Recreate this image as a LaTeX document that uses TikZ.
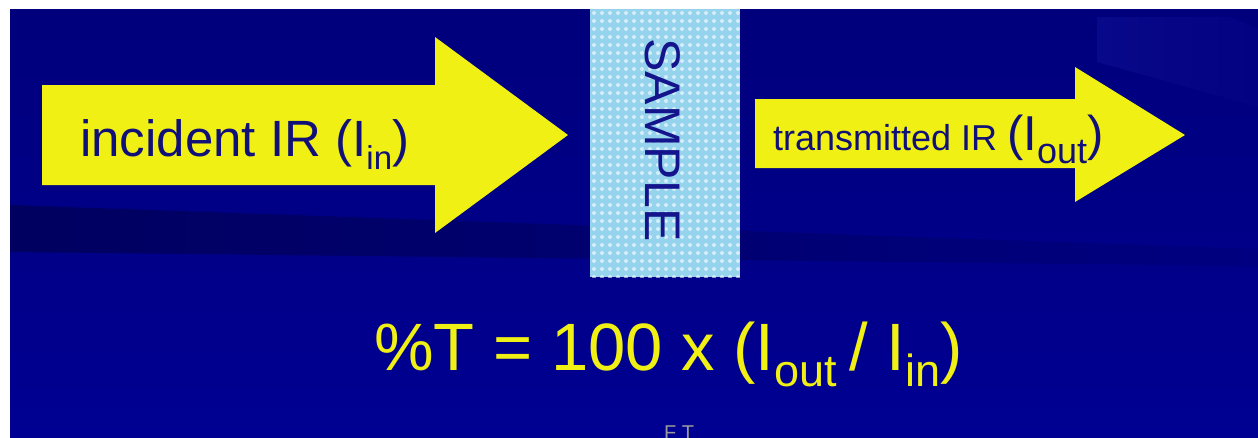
\documentclass[tikz,border=0pt]{standalone}
\usepackage{fontspec}
\setmainfont{Liberation Sans}
\newcommand{\mysub}[3]{\raisebox{-#1pt}{\fontsize{#2}{#2}\selectfont #3}}
\definecolor{bgtop}{RGB}{0,0,124}
\definecolor{bgbot}{RGB}{0,0,146}
\definecolor{bandL}{RGB}{0,0,96}
\definecolor{bandR}{RGB}{0,0,128}
\definecolor{lightL}{RGB}{8,8,138}
\definecolor{lightR}{RGB}{2,2,130}
\definecolor{ylw}{RGB}{240,240,20}
\definecolor{navytext}{RGB}{16,16,120}
\definecolor{samplebg}{RGB}{150,212,238}
\definecolor{sampletext}{RGB}{20,20,140}
\begin{document}
\begin{tikzpicture}[x=1pt,y=-1pt,
  yarrow/.style={fill=ylw, draw=none},
  lbl/.style={inner sep=0pt, anchor=base west},
  dotcell/.style={fill=white, opacity=0.6}]
\useasboundingbox (0,0) rectangle (1258,437);
\clip (0,0) rectangle (1258,437);
\fill[white] (0,0) rectangle (1258,437);
% background
\shade[top color=bgtop, bottom color=bgbot] (10,9) rectangle (1258,437);
\shade[left color=bandL, right color=bandR] (10,205) -- (1258,249) -- (1258,266) -- (10,252) -- cycle;
\shade[left color=lightL, right color=lightR] (1097,17) -- (1230,17) -- (1258,28) -- (1258,107) -- (1097,62) -- cycle;
% arrows
\path[yarrow] (42,85) -- (435,85) -- (435,37) -- (568,135) -- (435,233) -- (435,185) -- (42,185) -- cycle;
\path[yarrow] (755,99) -- (1075,99) -- (1075,67) -- (1185,135) -- (1075,202) -- (1075,168) -- (755,168) -- cycle;
% sample box
\fill[samplebg] (590,9) rectangle (740,277);
\begin{scope}
  \clip (590,9) rectangle (740,277);
  \foreach \i in {0,...,18}
    \foreach \j in {0,...,33}
      \fill[dotcell] (594+\i*8, 13+\j*8) circle (2);
\end{scope}
% texts
\node[lbl, text=navytext, font=\fontsize{51}{60}\selectfont] (inc) at (80,156)
  {incident IR (I\mysub{13}{33}{in})};
\node[lbl, text=navytext] (trans) at (773,150)
  {{\fontsize{36}{40}\selectfont transmitted IR }{\fontsize{49}{50}\selectfont (I\mysub{13}{36}{out})}};
\node[rotate=-90, inner sep=0pt, text=sampletext, font=\fontsize{50}{50}\selectfont] (sample) at (663,140) {SAMPLE};
\node[lbl, text=ylw, font=\fontsize{67}{70}\selectfont] (form) at (374,370)
  {\%T = 100 x (I\mysub{16}{45}{out\ }/ I\mysub{16}{45}{in})};
\node[anchor=north west, inner sep=0pt, text=gray!80, font=\fontsize{20}{20}\selectfont] (ft) at (664,426) {F T};
\end{tikzpicture}
\end{document}
